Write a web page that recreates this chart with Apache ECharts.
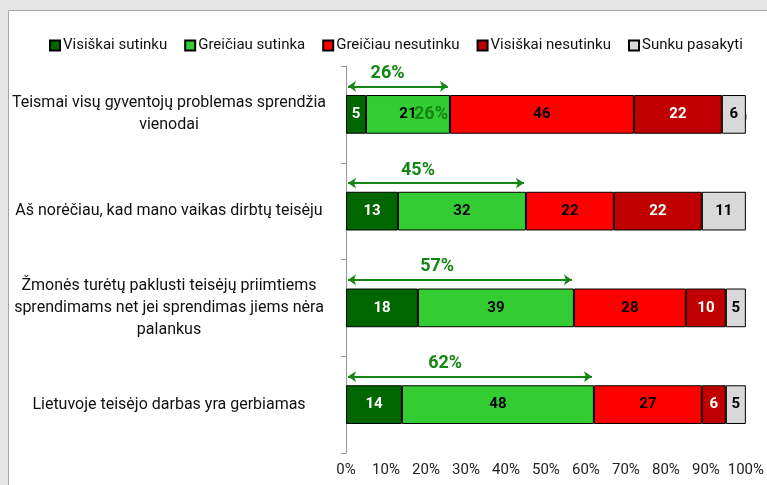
<!DOCTYPE html>
<html>
<head>
<meta charset="utf-8">
<script src="https://cdn.jsdelivr.net/npm/echarts@6/dist/echarts.min.js"></script>
<style>
  html, body { margin: 0; padding: 0; background: #fff; }
  #chart { width: 767px; height: 485px; }
</style>
</head>
<body>
<div id="chart"></div>
<script>
// teiginiai (kategorijos)
var categories = [
    'Teismai visų gyventojų problemas sprendžia\nvienodai',
    'Aš norėčiau, kad mano vaikas dirbtų teisėju',
    'Žmonės turėtų paklusti teisėjų priimtiems\nsprendimams net jei sprendimas jiems nėra\npalankus',
    'Lietuvoje teisėjo darbas yra gerbiamas'
];
var seriesNames = ['Visiškai sutinku', 'Greičiau sutinka', 'Greičiau nesutinku', 'Visiškai nesutinku', 'Sunku pasakyti'];
var fullyAgree     = [5, 13, 18, 14];
var ratherAgree    = [21, 32, 39, 48];
var ratherDisagree = [46, 22, 28, 27];
var fullyDisagree  = [22, 22, 10, 6];
var hardToSay      = [6, 11, 5, 5];
var agreeTotal     = [26, 45, 57, 62];
var xTicks = [0, 10, 20, 30, 40, 50, 60, 70, 80, 90, 100];

var colors = ['#006600', '#33cc33', '#ff0000', '#c00000', '#d9d9d9'];
var labelColors = ['#fff', '#000', '#000', '#fff', '#000'];
var arrowGreen = '#138613';
var font = '"Liberation Sans Narrow", "Roboto", sans-serif';

var myChart = echarts.init(document.getElementById('chart'));

var values = [fullyAgree, ratherAgree, ratherDisagree, fullyDisagree, hardToSay];
var barSeries = values.map(function (arr, k) {
    return {
        name: seriesNames[k],
        type: 'bar',
        stack: 'all',
        barWidth: '40%',
        data: arr,
        itemStyle: { color: colors[k], borderColor: '#000', borderWidth: 1 },
        label: {
            show: true,
            position: 'inside',
            color: labelColors[k],
            fontFamily: font,
            fontWeight: 'bold',
            fontSize: 15
        }
    };
});

// rodyklės virš juostų (sutinkančių suma)
var arrowY = -0.29;
var arrowSeries = {
    type: 'lines',
    coordinateSystem: 'cartesian2d',
    xAxisIndex: 0,
    yAxisIndex: 1,
    symbol: ['arrow', 'arrow'],
    symbolSize: 8,
    silent: true,
    lineStyle: { color: arrowGreen, width: 2, opacity: 1 },
    data: agreeTotal.map(function (v, i) {
        return { coords: [[0.5, i + arrowY], [v - 0.5, i + arrowY]] };
    })
};
var arrowLabels = {
    type: 'scatter',
    xAxisIndex: 0,
    yAxisIndex: 1,
    symbolSize: 0,
    silent: true,
    itemStyle: { opacity: 1 },
    data: agreeTotal.map(function (v, i) {
        return { value: [v * 0.4, i + arrowY], label: { formatter: v + '%' } };
    }).concat([{ value: [agreeTotal[0], 0], label: { formatter: agreeTotal[0] + '%', position: 'left', distance: 2 } }]),
    label: {
        show: true,
        position: 'top',
        distance: 4,
        color: arrowGreen,
        opacity: 1,
        fontFamily: font,
        fontWeight: 'bold',
        fontSize: 18
    }
};

var option = {
    animation: false,
    backgroundColor: '#fff',
    graphic: [
        { type: 'rect', z: -10, shape: { x: 0, y: 0, width: 767, height: 485 }, style: { fill: '#e4e4e4' } },
        { type: 'rect', z: -9, shape: { x: 8.5, y: 10.5, width: 770, height: 480 }, style: { fill: '#fff', stroke: '#a6a6a6', lineWidth: 1 } }
    ],
    legend: {
        data: seriesNames,
        left: 44,
        top: 33,
        width: 722,
        itemWidth: 10,
        itemHeight: 10,
        itemGap: 17,
        icon: 'rect',
        textStyle: { fontFamily: font, fontSize: 15, color: '#111', padding: [0, 0, 0, -2] }
    },
    grid: { left: 346, right: 20, top: 66, bottom: 32, containLabel: false },
    xAxis: {
        type: 'value',
        min: 0,
        max: 100,
        interval: 10,
        axisLine: { show: true, lineStyle: { color: '#999' } },
        axisTick: { show: true, length: 5, lineStyle: { color: '#999' } },
        splitLine: { show: false },
        axisLabel: {
            margin: 10,
            fontFamily: font,
            fontSize: 15,
            color: '#222',
            formatter: function (v) { return xTicks.indexOf(v) >= 0 ? v + '%' : ''; }
        }
    },
    yAxis: [{
        type: 'category',
        inverse: true,
        data: categories,
        axisLine: { show: true, lineStyle: { color: '#999' } },
        axisTick: { show: true, length: 5, lineStyle: { color: '#999' } },
        axisLabel: {
            margin: 177,
            align: 'center',
            fontFamily: font,
            fontSize: 16,
            lineHeight: 22,
            color: '#111'
        }
    }, {
        type: 'value',
        inverse: true,
        min: -0.5,
        max: 3.5,
        show: false
    }],
    series: barSeries.concat([arrowSeries, arrowLabels])
};

myChart.setOption(option);
</script>
</body>
</html>
